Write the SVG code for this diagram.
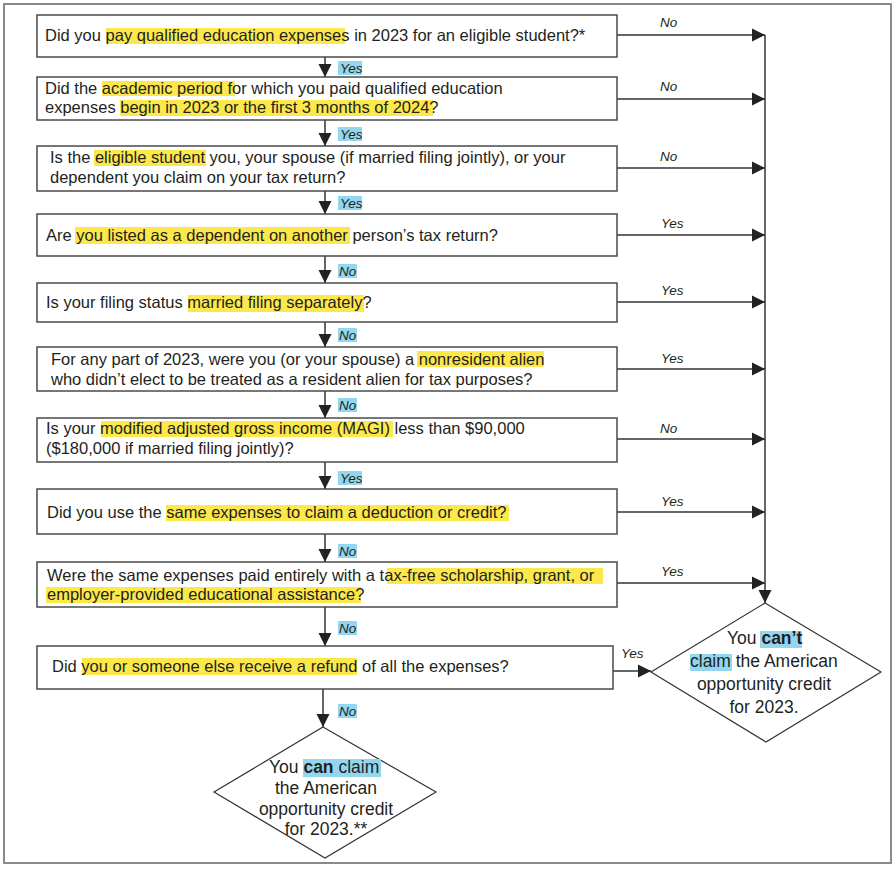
<svg xmlns="http://www.w3.org/2000/svg" width="895" height="869" viewBox="0 0 895 869">
<style>
  .frame{fill:#fff;stroke:#8a8a8a;stroke-width:2}
  .box{fill:#fff;stroke:#4a4a4a;stroke-width:1.5}
  .dia{fill:#fff;stroke:#333;stroke-width:1.2}
  .t{font-family:"Liberation Sans",Arial,sans-serif;font-size:16.5px;fill:#231f20}
  .dt{font-family:"Liberation Sans",Arial,sans-serif;font-size:17.5px;fill:#231f20}
  .lab{font-family:"Liberation Sans",Arial,sans-serif;font-size:13.5px;font-style:italic;fill:#231f20}
  .hy{fill:#fde84c}
  .hc{fill:#93d6ef}
  .b{font-weight:bold}
  .ca{stroke:#333;stroke-width:1.5;fill:none;marker-end:url(#ah)}
</style>
<defs>
  <marker id="ah" viewBox="0 0 10 10" refX="10" refY="5" markerUnits="userSpaceOnUse" markerWidth="13" markerHeight="14" orient="auto">
    <path d="M0,0 L10,5 L0,10 z" fill="#222"/>
  </marker>
</defs>
<rect class="frame" x="4" y="4" width="887" height="859"/>

<g id="connectors">
  <line class="ca" x1="325" y1="57" x2="325" y2="77"/>
  <line class="ca" x1="325" y1="120" x2="325" y2="146"/>
  <line class="ca" x1="325" y1="191" x2="325" y2="214"/>
  <line class="ca" x1="325" y1="256" x2="325" y2="283"/>
  <line class="ca" x1="325" y1="322" x2="325" y2="347"/>
  <line class="ca" x1="325" y1="391" x2="325" y2="418"/>
  <line class="ca" x1="325" y1="462" x2="325" y2="489"/>
  <line class="ca" x1="325" y1="534" x2="325" y2="562"/>
  <line class="ca" x1="325" y1="607" x2="325" y2="646"/>
  <line class="ca" x1="323" y1="689" x2="323" y2="727"/>
  <line class="ca" x1="617" y1="35" x2="765" y2="35"/>
  <line class="ca" x1="617" y1="99" x2="765" y2="99"/>
  <line class="ca" x1="617" y1="168" x2="765" y2="168"/>
  <line class="ca" x1="617" y1="235" x2="765" y2="235"/>
  <line class="ca" x1="617" y1="302" x2="765" y2="302"/>
  <line class="ca" x1="617" y1="369" x2="765" y2="369"/>
  <line class="ca" x1="617" y1="439" x2="765" y2="439"/>
  <line class="ca" x1="617" y1="512" x2="765" y2="512"/>
  <line class="ca" x1="617" y1="583" x2="765" y2="583"/>
  <line class="ca" x1="765" y1="35" x2="765" y2="603"/>
  <line class="ca" x1="613" y1="671" x2="651" y2="671"/>
  <rect class="hc" x="338" y="61" width="24" height="14"/><text class="lab" x="340" y="72.5">Yes</text>
  <rect class="hc" x="338" y="127" width="24" height="14"/><text class="lab" x="340" y="138.5">Yes</text>
  <rect class="hc" x="338" y="196" width="24" height="14"/><text class="lab" x="340" y="207.5">Yes</text>
  <rect class="hc" x="338" y="264" width="19" height="14"/><text class="lab" x="339" y="275.5">No</text>
  <rect class="hc" x="338" y="328" width="19" height="14"/><text class="lab" x="339" y="339.5">No</text>
  <rect class="hc" x="338" y="398" width="19" height="14"/><text class="lab" x="339" y="409.5">No</text>
  <rect class="hc" x="338" y="471" width="24" height="14"/><text class="lab" x="340" y="482.5">Yes</text>
  <rect class="hc" x="338" y="544" width="19" height="14"/><text class="lab" x="339" y="555.5">No</text>
  <rect class="hc" x="338" y="621" width="19" height="14"/><text class="lab" x="339" y="632.5">No</text>
  <rect class="hc" x="338" y="704" width="19" height="14"/><text class="lab" x="339" y="715.5">No</text>
  <text class="lab" x="660" y="27">No</text>
  <text class="lab" x="660" y="91">No</text>
  <text class="lab" x="660" y="161">No</text>
  <text class="lab" x="661" y="228">Yes</text>
  <text class="lab" x="661" y="295">Yes</text>
  <text class="lab" x="661" y="363">Yes</text>
  <text class="lab" x="660" y="433">No</text>
  <text class="lab" x="661" y="506">Yes</text>
  <text class="lab" x="661" y="576">Yes</text>
  <text class="lab" x="621" y="658">Yes</text>
</g>

<g id="q1">
  <rect class="box" x="37" y="15" width="580" height="42"/>
  <rect class="hy" x="106" y="28" width="239" height="16"/>
  <text class="t" x="45" y="41">Did you pay qualified education expenses in 2023 for an eligible student?*</text>
</g>
<g id="q2">
  <rect class="box" x="37" y="77" width="580" height="43"/>
  <rect class="hy" x="102" y="81" width="133" height="15"/>
  <rect class="hy" x="120" y="100" width="313" height="16"/>
  <text class="t" x="45" y="94">Did the academic period for which you paid qualified education</text>
  <text class="t" x="45" y="113">expenses begin in 2023 or the first 3 months of 2024?</text>
</g>
<g id="q3">
  <rect class="box" x="37" y="146" width="580" height="45"/>
  <rect class="hy" x="94" y="150" width="112" height="16"/>
  <text class="t" x="50" y="163">Is the eligible student you, your spouse (if married filing jointly), or your</text>
  <text class="t" x="50" y="183">dependent you claim on your tax return?</text>
</g>
<g id="q4">
  <rect class="box" x="37" y="214" width="580" height="42"/>
  <rect class="hy" x="75" y="227" width="275" height="17"/>
  <text class="t" x="46" y="241">Are you listed as a dependent on another person’s tax return?</text>
</g>
<g id="q5">
  <rect class="box" x="37" y="283" width="580" height="39"/>
  <rect class="hy" x="188" y="295" width="176" height="17"/>
  <text class="t" x="46" y="308">Is your filing status married filing separately?</text>
</g>
<g id="q6">
  <rect class="box" x="37" y="347" width="580" height="44"/>
  <rect class="hy" x="417" y="351" width="127" height="16"/>
  <text class="t" x="51" y="365">For any part of 2023, were you (or your spouse) a nonresident alien</text>
  <text class="t" x="51" y="385">who didn’t elect to be treated as a resident alien for tax purposes?</text>
</g>
<g id="q7">
  <rect class="box" x="37" y="418" width="580" height="44"/>
  <rect class="hy" x="101" y="421" width="292" height="16"/>
  <text class="t" x="46" y="434">Is your modified adjusted gross income (MAGI) less than $90,000</text>
  <text class="t" x="46" y="454">($180,000 if married filing jointly)?</text>
</g>
<g id="q8">
  <rect class="box" x="37" y="489" width="580" height="45"/>
  <rect class="hy" x="166" y="505" width="343" height="16"/>
  <text class="t" x="47" y="518">Did you use the same expenses to claim a deduction or credit?</text>
</g>
<g id="q9">
  <rect class="box" x="37" y="562" width="580" height="45"/>
  <rect class="hy" x="387" y="568" width="216" height="16"/>
  <rect class="hy" x="46" y="587" width="315" height="16"/>
  <text class="t" x="47" y="581">Were the same expenses paid entirely with a tax-free scholarship, grant, or</text>
  <text class="t" x="47" y="600">employer-provided educational assistance?</text>
</g>
<g id="q10">
  <rect class="box" x="37" y="646" width="576" height="43"/>
  <rect class="hy" x="82" y="658" width="275" height="17"/>
  <text class="t" x="52" y="672">Did you or someone else receive a refund of all the expenses?</text>
</g>
<g id="cant">
  <polygon class="dia" points="765,603 881,672 766,742 651,672"/>
  <rect class="hc" x="760" y="631" width="42" height="17"/>
  <rect class="hc" x="690" y="654" width="42" height="17"/>
  <text class="dt" x="727" y="644">You <tspan class="b">can’t</tspan></text>
  <text class="dt" x="690" y="667">claim the American</text>
  <text class="dt" x="764" y="690" text-anchor="middle">opportunity credit</text>
  <text class="dt" x="764" y="713" text-anchor="middle">for 2023.</text>
</g>
<g id="can">
  <polygon class="dia" points="323,727 436,792 325,858 214,792"/>
  <rect class="hc" x="303" y="759" width="78" height="18"/>
  <text class="dt" x="269" y="773">You <tspan class="b">can</tspan> claim</text>
  <text class="dt" x="326" y="794" text-anchor="middle">the American</text>
  <text class="dt" x="326" y="815" text-anchor="middle">opportunity credit</text>
  <text class="dt" x="326" y="835" text-anchor="middle">for 2023.**</text>
</g>
</svg>
